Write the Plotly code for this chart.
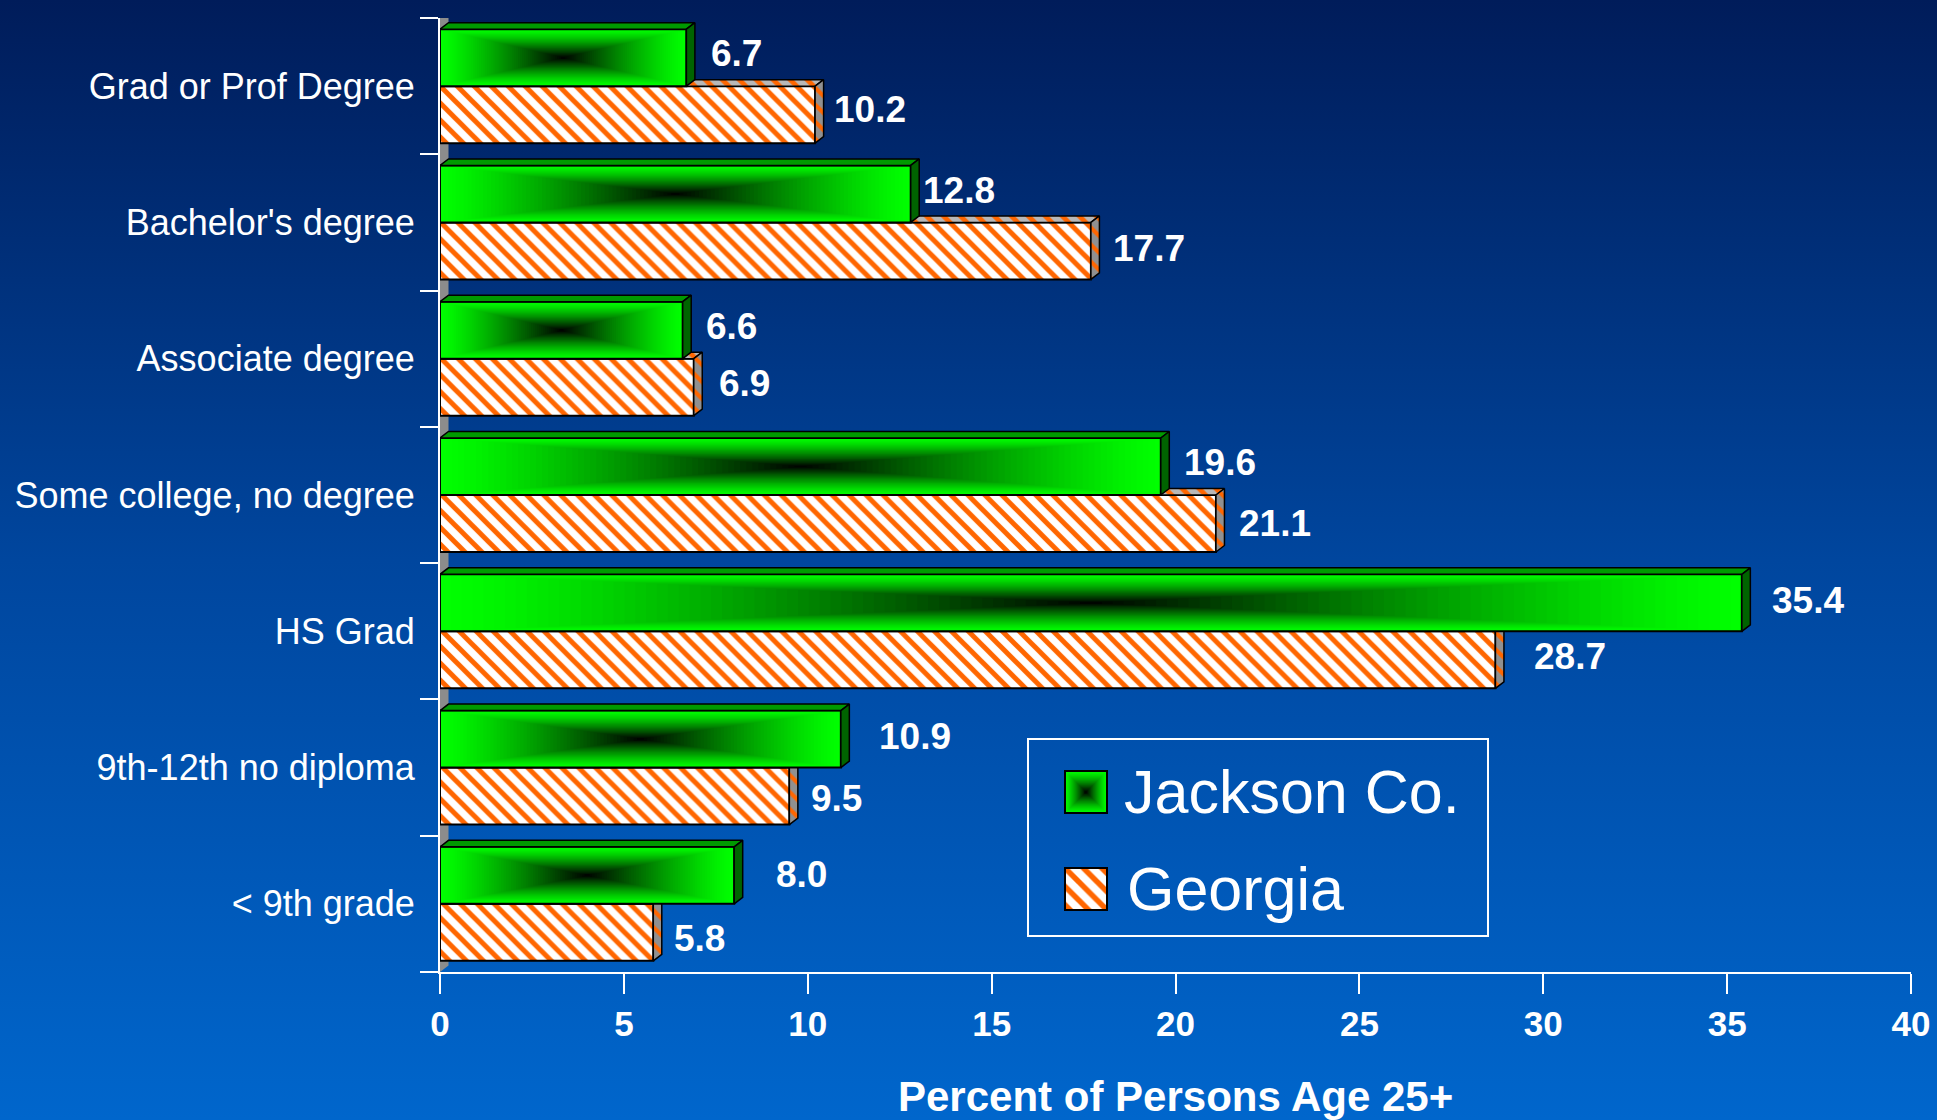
import base64
import plotly.graph_objects as go

# ---------------- data ----------------
categories = ["Grad or Prof Degree", "Bachelor's degree", "Associate degree",
              "Some college, no degree", "HS Grad", "9th-12th no diploma", "< 9th grade"]
jackson = [6.7, 12.8, 6.6, 19.6, 35.4, 10.9, 8.0]
georgia = [10.2, 17.7, 6.9, 21.1, 28.7, 9.5, 5.8]
x_ticks = [0, 5, 10, 15, 20, 25, 30, 35, 40]
x_title = "Percent of Persons Age 25+"
series_names = ["Jackson Co.", "Georgia"]

# ---------------- layout constants (pixels) ----------------
W, H = 1937, 1120
ML, MR, MT, MB = 440, 26, 18, 148
PW = W - ML - MR
PH = H - MT - MB
XMAX = 40
N = len(categories)
FONT = "Liberation Sans, Arial, sans-serif"

px_x = PW / XMAX          # px per x unit
px_y = PH / N             # px per category band
DX = 8.5 / px_x           # 3D depth (x units)
DY = 6.5 / px_y           # 3D depth (y units)
BAR_W = 57 / px_y         # front face thickness
OFF = BAR_W / 2

ypos = [N - 1 - i for i in range(N)]
y_j = [y + OFF for y in ypos]
y_g = [y - OFF for y in ypos]

# label gaps from front face end (px) and vertical nudges (px)
gap_j = [23, 10, 21, 21, 28, 36, 40]
gap_g = [17, 20, 23, 21, 37, 20, 19]
lift_j = [4, 3, 4, 4, 2, 3, 1]
lift_g = [5, 2, 4, 0, 3, -2, -6]

ORANGE = "#FF6600"
XR = [0, XMAX]
YR = [-0.5, N - 0.5]


def fx(px):
    return (px - ML) / PW


def fy(py):
    return (H - MB - py) / PH


def green_shade(t):
    g = int(round(255 * (1 - t ** 1.25)))
    return f"rgb(0,{max(g,0)},0)"


def faces(vals, ys):
    top_x, top_y, side_x, side_y = [], [], [], []
    for v, yc in zip(vals, ys):
        t = yc + BAR_W / 2
        b = yc - BAR_W / 2
        top_x += [0, v, v + DX, DX, 0, None]
        top_y += [t, t, t + DY, t + DY, t, None]
        side_x += [v, v, v + DX, v + DX, v, None]
        side_y += [b, t, t + DY, b + DY, b, None]
    return top_x, top_y, side_x, side_y


fig = go.Figure()

# left 3D wall (main subplot, lowest layer)
fig.add_trace(go.Scatter(
    x=[0, DX, DX, 0, 0], y=[-0.5, -0.5 + DY, N - 0.5 + DY, N - 0.5, -0.5],
    mode="lines", fill="toself", fillcolor="#8C8C8C", line=dict(width=0),
    hoverinfo="skip", showlegend=False))

# Georgia (orange hatched) bars -> overlay subplot x4/y4
gtx, gty, gsx, gsy = faces(georgia, y_g)
fig.add_trace(go.Bar(
    orientation="h", x=georgia, y=y_g, width=[BAR_W] * N, name=series_names[1],
    marker=dict(color="white", line=dict(color="black", width=2),
                pattern=dict(shape="\\", fgcolor=ORANGE, bgcolor="white", size=12,
                             solidity=0.42, fillmode="overlay", fgopacity=1)),
    xaxis="x4", yaxis="y4", showlegend=False, hoverinfo="skip"))
fig.add_trace(go.Scatter(
    x=gtx, y=gty, mode="lines", fill="toself", fillcolor="#B8B8B8",
    fillpattern=dict(shape="\\", fgcolor=ORANGE, bgcolor="#B8B8B8", size=12,
                     solidity=0.4, fgopacity=1),
    line=dict(color="black", width=1.5), xaxis="x4", yaxis="y4",
    hoverinfo="skip", showlegend=False))
fig.add_trace(go.Scatter(
    x=gsx, y=gsy, mode="lines", fill="toself", fillcolor="#909090",
    fillpattern=dict(shape="\\", fgcolor=ORANGE, bgcolor="#909090", size=12,
                     solidity=0.35, fgopacity=1),
    line=dict(color="black", width=1.5), xaxis="x4", yaxis="y4",
    hoverinfo="skip", showlegend=False))

# Jackson (green gradient) bars -> overlay subplot x5/y5 (top)
jtx, jty, jsx, jsy = faces(jackson, y_j)
NLEV = 60
for k in range(NLEV):
    t = k / NLEV
    fig.add_trace(go.Bar(
        orientation="h", x=[v * (1 - t) for v in jackson], base=[v * t / 2 for v in jackson],
        y=y_j, width=[BAR_W * (1 - t)] * N,
        marker=dict(color=green_shade(t), line=dict(width=0)),
        xaxis="x5", yaxis="y5", showlegend=False, hoverinfo="skip"))
fig.add_trace(go.Bar(
    orientation="h", x=jackson, y=y_j, width=[BAR_W] * N, name=series_names[0],
    marker=dict(color="rgba(0,0,0,0)", line=dict(color="black", width=2)),
    xaxis="x5", yaxis="y5", showlegend=False, hoverinfo="skip"))
fig.add_trace(go.Scatter(
    x=jtx, y=jty, mode="lines", fill="toself", fillcolor="#009A00",
    line=dict(color="black", width=1.5), xaxis="x5", yaxis="y5",
    hoverinfo="skip", showlegend=False))
fig.add_trace(go.Scatter(
    x=jsx, y=jsy, mode="lines", fill="toself", fillcolor="#006400",
    line=dict(color="black", width=1.5), xaxis="x5", yaxis="y5",
    hoverinfo="skip", showlegend=False))

# value labels
annotations = []
for vals, ys, gaps, lifts in ((jackson, y_j, gap_j, lift_j), (georgia, y_g, gap_g, lift_g)):
    for v, yc, gp, lf in zip(vals, ys, gaps, lifts):
        annotations.append(dict(
            x=v, y=yc, xref="x", yref="y", text=f"{v:.1f}", showarrow=False,
            xanchor="left", yanchor="middle", xshift=gp, yshift=lf,
            font=dict(family=FONT, size=37, color="white", weight="bold")))

# axis title
annotations.append(dict(
    x=0.5, y=fy(1096), xref="paper", yref="paper", text=f"<b>{x_title}</b>",
    showarrow=False, xanchor="center", yanchor="middle",
    font=dict(family=FONT, size=42, color="white")))

# legend text
annotations.append(dict(
    x=fx(1122), y=fy(792), xref="paper", yref="paper", text=series_names[0],
    showarrow=False, xanchor="left", yanchor="middle",
    font=dict(family=FONT, size=61, color="white")))
annotations.append(dict(
    x=fx(1125), y=fy(889), xref="paper", yref="paper", text=series_names[1],
    showarrow=False, xanchor="left", yanchor="middle",
    font=dict(family=FONT, size=61, color="white")))

# legend marker mini axes
PAD = 0.06
mk = 42
def dom_x(px0):
    return [fx(px0 - PAD * mk), fx(px0 + mk + PAD * mk)]
def dom_y(py0):
    return [fy(py0 + mk + PAD * mk), fy(py0 - PAD * mk)]

for k in range(NLEV):
    t = k / NLEV
    fig.add_trace(go.Bar(
        orientation="h", x=[1 - t], base=[t / 2], y=[0.5], width=[1 - t],
        marker=dict(color=green_shade(t), line=dict(width=0)),
        xaxis="x2", yaxis="y2", showlegend=False, hoverinfo="skip"))
fig.add_trace(go.Bar(
    orientation="h", x=[1], y=[0.5], width=[1],
    marker=dict(color="rgba(0,0,0,0)", line=dict(color="black", width=2)),
    xaxis="x2", yaxis="y2", showlegend=False, hoverinfo="skip"))
fig.add_trace(go.Bar(
    orientation="h", x=[1], y=[0.5], width=[1],
    marker=dict(color="white", line=dict(color="black", width=2),
                pattern=dict(shape="\\", fgcolor=ORANGE, bgcolor="white", size=13,
                             solidity=0.42, fillmode="overlay", fgopacity=1)),
    xaxis="x3", yaxis="y3", showlegend=False, hoverinfo="skip"))

mini = dict(range=[-PAD, 1 + PAD], visible=False, fixedrange=True)

# background gradient
svg = (f'<svg xmlns="http://www.w3.org/2000/svg" width="{W}" height="{H}" preserveAspectRatio="none">'
       '<defs><linearGradient id="g" x1="0" y1="0" x2="0" y2="1">'
       '<stop offset="0" stop-color="#001C5A"/>'
       '<stop offset="0.5" stop-color="#00469E"/>'
       '<stop offset="1" stop-color="#0066CC"/>'
       '</linearGradient></defs><rect x="0" y="0" width="100%" height="100%" fill="url(#g)"/></svg>')
bg_src = "data:image/svg+xml;base64," + base64.b64encode(svg.encode()).decode()

fig.update_layout(
    width=W, height=H,
    margin=dict(l=ML, r=MR, t=MT, b=MB, autoexpand=False),
    paper_bgcolor="#0046A0", plot_bgcolor="rgba(0,0,0,0)",
    barmode="overlay", showlegend=False,
    font=dict(family=FONT, color="white"),
    images=[dict(source=bg_src, xref="paper", yref="paper",
                 x=-ML / PW, y=1 + MT / PH, sizex=W / PW, sizey=H / PH,
                 xanchor="left", yanchor="top", sizing="stretch", layer="below")],
    xaxis=dict(range=XR, tickvals=x_ticks, ticktext=[str(v) for v in x_ticks],
               showgrid=False, zeroline=False, showline=True, linecolor="white", linewidth=2,
               ticks="outside", ticklen=20, tickwidth=2, tickcolor="white",
               tickfont=dict(family=FONT, size=35, color="white", weight="bold"),
               fixedrange=True),
    yaxis=dict(range=YR, tickvals=ypos, ticktext=categories,
               showgrid=False, zeroline=False, showline=True, linecolor="white", linewidth=2,
               ticks="", ticklabelstandoff=16,
               tickfont=dict(family=FONT, size=36, color="white"),
               minor=dict(tickmode="array", tickvals=[i - 0.5 for i in range(N + 1)],
                          ticks="outside", ticklen=18, tickwidth=2, tickcolor="white",
                          showgrid=False),
               fixedrange=True),
    xaxis4=dict(overlaying="x", range=XR, visible=False, fixedrange=True),
    yaxis4=dict(overlaying="y", range=YR, visible=False, fixedrange=True),
    xaxis5=dict(overlaying="x", range=XR, visible=False, fixedrange=True),
    yaxis5=dict(overlaying="y", range=YR, visible=False, fixedrange=True),
    xaxis2=dict(domain=dom_x(1065), anchor="y2", **mini),
    yaxis2=dict(domain=dom_y(771), anchor="x2", **mini),
    xaxis3=dict(domain=dom_x(1065), anchor="y3", **mini),
    yaxis3=dict(domain=dom_y(868), anchor="x3", **mini),
    shapes=[dict(type="rect", xref="paper", yref="paper",
                 x0=fx(1028), x1=fx(1488), y0=fy(936), y1=fy(739),
                 line=dict(color="white", width=2), fillcolor="rgba(0,0,0,0)", layer="above")],
    annotations=annotations,
)

fig.write_html("out.html", config={"displayModeBar": False},
               post_script="document.body.style.margin='0';document.body.style.overflow='hidden';")
